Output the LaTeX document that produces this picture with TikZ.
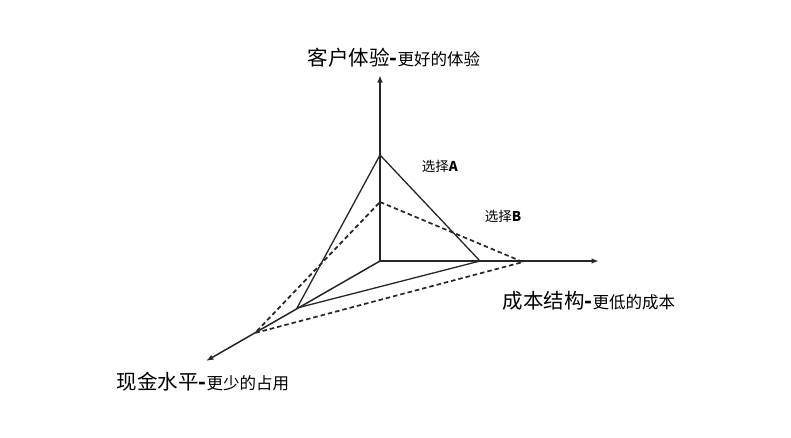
\documentclass[tikz,border=0pt]{standalone}
\usepackage{fontspec}
\setmainfont{Noto Sans CJK SC}
\usetikzlibrary{arrows.meta}

\begin{document}
\begin{tikzpicture}[
        x=1pt, y=-1pt,
        axis/.style={draw=black!85, line width=1.5pt, -{Latex[length=7.5pt,width=5.5pt]}},
        triA/.style={draw=black!85, line width=1.3pt},
        triB/.style={draw=black!85, line width=1.7pt, dash pattern=on 4.5pt off 3pt},
        biglabel/.style={font=\fontsize{20.5}{22}\selectfont, inner sep=0pt},
        choice/.style={font=\fontsize{13.5}{15}\selectfont, inner sep=0pt}
    ]
        \useasboundingbox (0,0) rectangle (791,437);

        % axes
        \coordinate (O) at (380,261);
        \coordinate (up) at (380,75);
        \coordinate (right) at (599,261);
        \coordinate (down) at (206,361);
        \draw[axis] (O) -- (up);
        \draw[axis] (O) -- (right);
        \draw[axis] (O) -- (down);

        % choice A
        \coordinate (A1) at (380,155);
        \coordinate (A2) at (480,261);
        \coordinate (A3) at (297,308);
        \draw[triA] (A1) -- (A2) -- (A3) -- cycle;

        % choice B
        \coordinate (B1) at (380,202);
        \coordinate (B2) at (523,262);
        \coordinate (B3) at (255,333);
        \draw[triB] (B1) -- (B2) -- (B3) -- cycle;

        % labels
        \node[biglabel] (experience) at (394,58) {客户体验\textbf{-}{\fontsize{16.5}{18}\selectfont 更好的体验}};
        \node[biglabel] (cost) at (589,301) {成本结构\textbf{-}{\fontsize{16.5}{18}\selectfont 更低的成本}};
        \node[biglabel] (cash) at (203,382) {现金水平\textbf{-}{\fontsize{16.5}{18}\selectfont 更少的占用}};
        \node[choice] (choiceA) at (440,166) {选择\textbf{A}};
        \node[choice] (choiceB) at (503,216) {选择\textbf{B}};
    \end{tikzpicture}
\end{document}
